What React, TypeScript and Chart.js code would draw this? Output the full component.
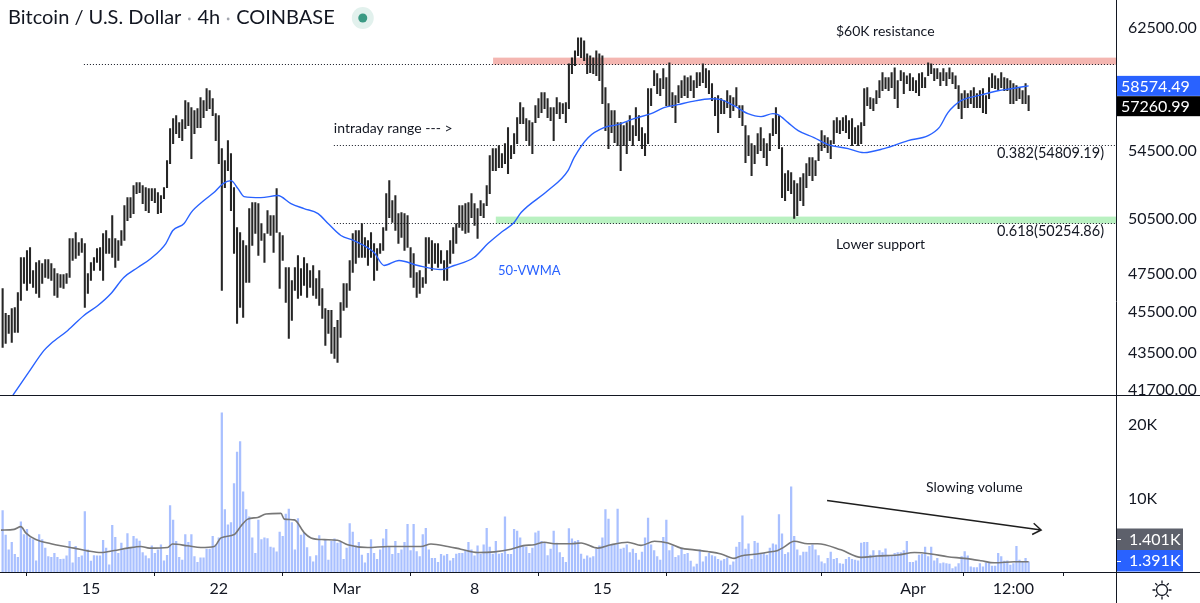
import React, { useEffect, useRef } from "react";
import { Chart, registerables } from "chart.js";

Chart.register(...registerables);

const FONT = "Lato, 'Open Sans', 'DejaVu Sans', sans-serif";
const INK = "#131722";

// 4h bars, x index 0 = 15 Feb 00:00 (one unit = one 4h bar)
const FIRST_BAR_INDEX = -29;

// [low, high] of each 4h bar
const BAR_LOW_HIGH: [number, number][] = [
  [43742,46717],[43938,45433],[44431,45332],[43987,45687],[44480,45738],[44480,46509],
  [46097,48361],[46979,48361],[46613,48740],[46979,48903],[46769,47664],[46457,48092],
  [46251,48200],[46979,48038],[47294,48253],[47241,48253],[47136,48038],[46354,47771],
  [46251,47505],[46769,47452],[46717,47452],[46979,47505],[47294,49396],[48200,49396],
  [48307,49728],[48469,49176],[48631,49396],[45738,49121],[46457,47505],[47136,48092],
  [47664,48361],[48092,48849],[47664,48903],[47136,49673],[48577,49839],[48577,49396],
  [48361,50680],[47824,49396],[48200,49286],[49012,49839],[49286,51248],[50398,51707],
  [50567,51707],[50793,52404],[51938,52579],[51996,52579],[51363,52404],[50963,52287],
  [50849,52229],[51535,52229],[51420,52229],[50793,51996],[50849,51823],[51650,52287],
  [52287,53885],[53705,55843],[54917,56469],[55532,56658],[55285,56218],[55101,56406],
  [55843,57614],[56030,57486],[54006,57166],[55532,56975],[55905,57102],[55905,57807],
  [56532,57614],[56975,58390],[57102,58260],[56658,57743],[55101,56785],[53705,56658],
  [46613,54611],[52287,53885],[53288,55101],[50963,54308],[48577,52287],[44929,50006],
  [45738,49728],[45230,49286],[47031,49012],[47031,51077],[49012,51420],[49673,51420],
  [48469,51363],[49286,50230],[48092,49673],[49673,50963],[49562,50680],[48631,50680],
  [49728,52229],[46717,49728],[48200,49562],[45994,47824],[44184,47824],[45080,47136],
  [46613,47824],[46200,48469],[46354,47771],[46874,48361],[46251,48038],[46769,47664],
  [46354,47931],[46200,47241],[45840,47664],[45180,46717],[43840,45687],[44431,45586],
  [43451,45586],[43209,44729],[43017,45080],[44233,45994],[45586,46979],[45738,46979],
  [46613,48200],[47558,49673],[48038,49839],[48361,49839],[48361,50230],[48361,49451],
  [47931,49286],[48361,49728],[47136,49121],[47664,48849],[48577,49121],[48740,50006],
  [49839,51938],[50567,52697],[50286,51535],[49839,51823],[49121,50793],[49451,50849],
  [48740,50793],[48903,50680],[47294,48903],[46769,48577],[46251,47558],[46457,47664],
  [46769,47294],[46979,49451],[48038,49451],[47664,49286],[48038,49121],[47824,49121],
  [48038,48740],[47136,48200],[47136,48740],[48038,49286],[48577,50006],[49121,50230],
  [50006,51248],[49839,51248],[49673,51363],[49728,51420],[50567,51938],[50118,51363],
  [49396,51077],[50680,51535],[50567,51363],[51248,52404],[51938,54187],[53288,54611],
  [53288,54611],[53466,54794],[53466,54308],[53705,54917],[53110,55905],[54006,54794],
  [54308,55532],[54917,56532],[56155,57486],[56155,57166],[55101,56469],[54794,56344],
  [54308,56218],[56218,57294],[56532,57743],[56848,58130],[57102,58130],[56532,57743],
  [56344,57166],[55101,57166],[56785,57807],[56469,57486],[56785,57422],[56218,57486],
  [57102,60041],[59376,60444],[59908,60918],[60579,61807],[60444,61807],[60242,61601],
  [59376,60714],[59442,60579],[59376,60444],[59243,60918],[58914,60714],[57422,60579],
  [55718,58455],[54611,57422],[55594,56975],[54978,56975],[54794,56218],[53288,56218],
  [54794,56030],[54308,56218],[55101,56658],[54794,56030],[55409,57166],[55101,56658],
  [54611,55905],[54187,55532],[54917,58390],[57294,58390],[58586,59575],[58065,59376],
  [57936,59045],[58390,59708],[57294,59111],[57294,60108],[57166,58130],[56218,57936],
  [57486,58586],[57807,58914],[57936,59243],[57807,59111],[58260,59243],[57807,58914],
  [58455,59442],[58586,59442],[58782,60041],[58455,59708],[58065,59575],[57614,58717],
  [56658,57807],[55594,57936],[56785,57743],[56785,57614],[57166,58260],[56532,57936],
  [56975,57807],[57294,58455],[56532,57294],[56030,57294],[53765,56030],[54187,55409],
  [52991,54917],[53705,54794],[54308,55532],[54490,55905],[54066,55224],[53586,54917],
  [54490,55532],[55409,56469],[55532,57166],[54611,56658],[51707,54672],[51535,53110],
  [52112,53288],[51938,53169],[50511,52697],[50680,52521],[51535,52873],[51248,53110],
  [52287,53705],[52991,54066],[52697,54066],[52991,53885],[53885,54917],[54490,55718],
  [54672,55409],[54368,55285],[54006,55101],[54917,56344],[55594,56532],[55532,56344],
  [55718,56532],[55594,56658],[55224,56344],[54794,56469],[54917,55905],[54794,56030],
  [54917,56218],[56030,58390],[57294,58455],[57102,57807],[56975,57743],[57422,58260],
  [57807,58914],[58260,59442],[58390,59111],[58260,59111],[58455,59442],[57743,59774],
  [57166,58914],[58914,59575],[58065,59442],[58717,59243],[58260,59376],[58260,59111],
  [58130,58914],[57936,59376],[58455,59442],[58455,59111],[59243,60108],[59376,60041],
  [58914,59708],[59045,59708],[58586,59442],[58914,59708],[58586,59442],[59045,59774],
  [58717,59442],[58390,59243],[57102,58586],[56469,58065],[57166,58260],[57166,58065],
  [57422,58260],[57166,58455],[57166,58065],[57166,58260],[56848,58390],[56785,57936],
  [57743,59111],[58455,59376],[58390,59243],[58260,59045],[58455,59442],[58260,59111],
  [58260,59045],[57422,58914],[57422,58717],[57614,58586],[57743,58455],[57422,58260],
  [57422,58717],[56975,57936],
];

// volume of each bar, thousands of BTC
const VOLUME_K: number[] = [
  8.33, 5.0, 3.01, 4.03, 2.41, 1.99, 6.81, 5.09, 5.79, 4.63,
  4.40, 1.53, 5.09, 4.40, 3.24, 2.08, 1.99, 2.55, 1.99, 1.71,
  1.76, 2.18, 4.17, 1.25, 3.47, 1.99, 2.18, 8.19, 3.01, 1.48,
  2.22, 2.18, 2.18, 4.31, 3.24, 0.97, 6.34, 4.72, 2.55, 3.94,
  3.01, 5.23, 3.24, 4.86, 4.49, 4.21, 2.64, 2.18, 1.81, 3.56,
  2.55, 3.01, 3.70, 1.53, 2.27, 9.03, 7.04, 4.17, 1.99, 1.62,
  5.09, 4.03, 5.09, 2.08, 1.30, 1.94, 1.94, 3.10, 3.10, 4.86,
  3.70, 4.63, 21.6, 8.47, 6.39, 6.71, 12.0, 16.3, 17.7, 10.9,
  8.47, 7.5, 4.63, 2.55, 7.04, 4.40, 4.63,
  4.54, 3.38, 3.29, 2.73, 5.42, 4.86, 7.87, 8.56, 6.71, 3.01,
  7.27, 5.0, 5.32, 3.33, 2.08, 1.39, 2.22, 4.95, 3.56, 4.40,
  1.62, 4.17, 4.49, 3.94, 4.03, 1.71, 3.24, 6.57, 5.42, 3.56,
  4.03, 2.31, 1.25, 2.55, 4.40, 2.55, 1.71, 3.01, 4.49, 5.79,
  3.47, 2.41, 4.17, 2.55, 3.01, 4.03, 6.48, 2.92, 6.48, 2.78,
  2.08, 5.09, 5.93, 3.01, 1.85, 1.85, 1.30, 2.41, 2.18, 2.41,
  1.53, 1.85, 2.45, 2.55, 2.55, 2.87, 4.03, 3.01, 2.18, 3.56,
  2.45, 3.70, 5.93, 3.38, 2.45, 4.17, 2.45, 2.55, 7.5, 2.41,
  2.41, 5.79, 5.56, 4.63, 3.47,
  3.38, 2.55, 3.24, 5.32, 5.56, 4.17, 3.94, 2.22, 3.10, 5.56,
  3.94, 2.64, 1.99, 1.30, 5.88, 4.49, 4.17, 4.31, 2.45, 1.76,
  2.18, 1.94, 2.08, 3.10, 3.56, 4.63, 8.47, 7.18, 3.70, 3.70,
  8.56, 3.10, 3.24, 3.70, 2.64, 3.10, 2.55, 1.62, 2.69, 4.63,
  7.31, 3.70, 2.92, 2.08, 1.62, 4.72, 7.04, 2.92, 3.56, 1.99,
  2.22, 3.24, 2.41, 2.55, 1.48, 0.69, 1.06, 3.01, 1.39, 2.08,
  2.55, 2.22, 2.08, 1.71, 1.53, 1.71, 1.94, 0.93, 1.39, 3.38,
  4.03, 7.64, 3.10, 3.84, 1.71, 4.17, 3.94, 2.55, 2.55, 2.31,
  3.24, 3.84, 3.70, 7.78, 5.19,
  2.41, 2.64, 11.57, 4.86, 3.01, 2.22, 2.69, 2.69, 3.47, 3.70,
  3.01, 2.22, 1.39, 1.16, 1.85, 2.69, 1.71, 1.85, 1.16, 1.06,
  1.71, 1.99, 1.71, 1.62, 1.53, 3.94, 4.03, 4.03, 2.31, 2.92,
  2.22, 2.92, 2.64, 3.15, 2.18, 2.18, 2.55, 2.64, 2.64, 2.92,
  4.17, 1.30, 1.30, 1.53, 2.31, 2.41, 3.38, 2.08, 3.38, 1.53,
  1.85, 1.16, 1.25, 1.16, 1.06, 0.46, 0.69, 1.16, 2.08, 2.78,
  2.18, 0.69, 0.60, 0.60, 1.16, 0.69, 1.25, 1.25, 0.79, 0.79,
  2.55, 2.08, 1.48, 1.53, 0.93, 1.16, 3.47, 1.62, 1.39, 1.85,
  1.39,
];

// 50-period volume-weighted moving average: [bar index, price]
const VWMA_50: [number, number][] = [
  [-25.6, 41470], [-20.7, 42490], [-15.4, 43596], [-13.1, 43938], [-7.6, 44580], [-2.3, 45332],
  [2.3, 45840], [6.6, 46457], [10.8, 47294], [15.4, 47824], [19.7, 48307], [24.6, 49121],
  [26.9, 49839], [30.6, 50230], [32.9, 50849], [37.1, 51535], [40.4, 51996], [43.4, 52521],
  [46.0, 52697], [48.3, 52229], [50.3, 51765], [55.8, 51707], [61.4, 51823], [65.7, 51363],
  [70.0, 51077], [74.6, 50793], [77.9, 50230], [82.1, 49562], [86.4, 49286], [93.0, 48631],
  [96.3, 47931], [101.2, 48200], [107.4, 47931], [115.0, 47718], [119.3, 47931], [125.8, 48361],
  [130.4, 49121], [134.7, 49728], [139.0, 50286], [141.3, 50849], [150.1, 52112], [156.7, 53288],
  [158.7, 54066], [163.3, 55285], [168.5, 55905], [173.1, 56093], [178.4, 56469], [184.0, 56785],
  [188.2, 57166], [192.8, 57358], [197.1, 57550], [203.7, 57743], [207.0, 57679], [211.2, 57294],
  [215.8, 56785], [220.1, 56595], [224.0, 56785], [225.7, 56722], [229.0, 56218], [232.3, 55718],
  [237.5, 55285], [242.1, 54856], [248.7, 54611], [253.9, 54368], [260.5, 54611], [268.4, 55101],
  [275.0, 55409], [278.6, 55905], [281.5, 56848], [285.8, 57614], [291.4, 57936], [297.9, 58260],
  [302.2, 58390], [308, 58574.49],
];

// volume moving average: [bar index, thousands]
const VOLUME_MA: [number, number][] = [
  [-29.6, 5.69], [-25.2, 5.79], [-23, 6.16], [-21.4, 5.32], [-18.1, 4.40], [-13.1, 3.84],
  [-9.9, 3.56], [-5.5, 3.24], [-1.1, 2.87], [3.3, 2.64], [7.7, 2.92], [12, 3.24],
  [16.4, 3.47], [19.2, 3.24], [25.2, 3.33], [26.8, 3.80], [31.8, 3.56], [36.1, 3.33],
  [40.5, 3.47], [42.7, 4.63], [47.1, 5.09], [49.3, 6.25], [51.5, 7.18], [54.8, 7.41],
  [57.5, 7.87], [62.4, 7.96], [63.5, 7.18], [66.8, 7.08], [70.1, 5.32], [72.3, 4.63],
  [76.6, 4.40], [81, 4.31], [84.3, 3.70], [90.9, 3.33], [97.5, 3.47], [104, 3.47],
  [108.4, 3.47], [111.7, 3.80], [117.2, 3.47], [121.5, 3.10], [127, 2.64], [132.5, 2.73],
  [138, 3.10], [142, 3.58], [145.6, 3.70], [148.9, 4.03], [152.2, 3.84], [157.7, 3.84],
  [161, 3.94], [166.5, 3.24], [170.8, 3.70], [176.3, 4.03], [180.7, 3.61], [185.1, 4.17],
  [189.5, 3.94], [193.8, 3.24], [198.2, 3.01], [202.6, 2.78], [207, 2.45], [211.3, 1.85],
  [213.5, 2.18], [217.9, 2.41], [222.3, 2.69], [225.6, 2.92], [227.5, 3.35], [231, 4.17],
  [235.4, 3.84], [238.7, 3.84], [246.4, 3.01], [253, 1.99], [258.4, 2.18], [265, 2.31],
  [270.5, 2.64], [276, 2.45], [281.4, 2.08], [286.9, 1.85], [292.4, 1.53], [296.7, 1.25],
  [303.3, 1.39], [308, 1.401],
];

const X_TICK_VALUES = [0, 42, 84, 126, 168, 210, 270, 303];
const X_TICK_LABELS = ["15", "22", "Mar", "8", "15", "22", "Apr", "12:00"];
const PRICE_TICKS = [41700, 43500, 45500, 47500, 50500, 54500, 62500];
const VOLUME_TICKS = [10000, 20000];

const LAST_CLOSE = 57260.99;
const LAST_VWMA = 58574.49;
const LAST_VOLUME_MA = "1.401K";
const LAST_VOLUME = "1.391K";
const LAST_VOLUME_VALUE = 1391;

const RESISTANCE_LEVEL = 60000;
const RESISTANCE_BAND: [number, number] = [59980, 60450];
const SUPPORT_BAND: [number, number] = [50230, 50620];
const FIB_382 = 54809.19;
const FIB_618 = 50254.86;

const LEVEL_LINES = [
  { from: -2.3, value: RESISTANCE_LEVEL },
  { from: 79.8, value: FIB_382 },
  { from: 79.8, value: FIB_618 },
];
const BANDS = [
  { from: 132.1, range: RESISTANCE_BAND, color: "rgba(229,80,70,0.42)" },
  { from: 133, range: SUPPORT_BAND, color: "rgba(80,220,100,0.40)" },
];
const PRICE_NOTES = [
  { text: "$60K resistance", x: 244.7, y: 62220, size: 14, color: INK },
  { text: "intraday range --- >", x: 79.8, y: 55843, size: 14, color: INK },
  { text: "0.382(54809.19)", x: 297.6, y: 54308, size: 14.5, color: INK },
  { text: "0.618(50254.86)", x: 297.6, y: 49784, size: 14.5, color: INK },
  { text: "Lower support", x: 244.7, y: 49067, size: 14, color: INK },
  { text: "50-VWMA", x: 133.7, y: 47664, size: 13, color: "#2962ff" },
];
const VOLUME_NOTE = { text: "Slowing volume", x: 274.3, y: 11500 };
const VOLUME_ARROW = { from: [241.8, 9700], to: [312.1, 5700] };

const overlay = {
  id: "overlay",
  beforeDatasetsDraw(chart: any) {
    const { ctx, chartArea: ca, scales } = chart;
    const x = scales.x, y = scales.y;
    ctx.save();
    for (const b of BANDS) {
      const x0 = x.getPixelForValue(b.from);
      const top = y.getPixelForValue(b.range[1]);
      const bot = y.getPixelForValue(b.range[0]);
      ctx.fillStyle = b.color;
      ctx.fillRect(x0, top, ca.right - x0, bot - top);
    }
    ctx.setLineDash([1, 2]);
    ctx.strokeStyle = INK;
    ctx.lineWidth = 1;
    for (const l of LEVEL_LINES) {
      const py = Math.round(y.getPixelForValue(l.value)) + 0.5;
      ctx.beginPath();
      ctx.moveTo(x.getPixelForValue(l.from), py);
      ctx.lineTo(ca.right, py);
      ctx.stroke();
    }
    ctx.restore();
  },
  afterDraw(chart: any) {
    const { ctx, chartArea: ca, scales, width, height } = chart;
    const x = scales.x, y = scales.y, yv = scales.yv;
    ctx.save();
    ctx.textBaseline = "middle";
    ctx.textAlign = "left";
    for (const n of PRICE_NOTES) {
      ctx.font = `${n.size}px ${FONT}`;
      ctx.fillStyle = n.color;
      ctx.fillText(n.text, x.getPixelForValue(n.x), y.getPixelForValue(n.y));
    }
    ctx.font = `14px ${FONT}`;
    ctx.fillStyle = INK;
    ctx.fillText(VOLUME_NOTE.text, x.getPixelForValue(VOLUME_NOTE.x), yv.getPixelForValue(VOLUME_NOTE.y));

    // arrow
    const ax0 = x.getPixelForValue(VOLUME_ARROW.from[0]);
    const ay0 = yv.getPixelForValue(VOLUME_ARROW.from[1]);
    const ax1 = x.getPixelForValue(VOLUME_ARROW.to[0]);
    const ay1 = yv.getPixelForValue(VOLUME_ARROW.to[1]);
    ctx.strokeStyle = "#1e1e1e";
    ctx.lineWidth = 1.5;
    ctx.beginPath();
    ctx.moveTo(ax0, ay0);
    ctx.lineTo(ax1, ay1);
    const ang = Math.atan2(ay1 - ay0, ax1 - ax0);
    const hl = 10;
    ctx.moveTo(ax1 - hl * Math.cos(ang - 0.6), ay1 - hl * Math.sin(ang - 0.6));
    ctx.lineTo(ax1, ay1);
    ctx.lineTo(ax1 - hl * Math.cos(ang + 0.6), ay1 - hl * Math.sin(ang + 0.6));
    ctx.stroke();

    // pane separators and axis line
    ctx.strokeStyle = INK;
    ctx.lineWidth = 1;
    const sepY = Math.round(y.bottom) + 0.5;
    ctx.beginPath();
    ctx.moveTo(0, sepY); ctx.lineTo(width, sepY);
    const botY = Math.round(ca.bottom) + 0.5;
    ctx.moveTo(0, botY); ctx.lineTo(width, botY);
    const axX = Math.round(ca.right) + 0.5;
    ctx.moveTo(axX, 0); ctx.lineTo(axX, height);
    ctx.stroke();

    // last value boxes
    const boxH = 20;
    const drawBox = (cy: number, bg: string, label: string) => {
      ctx.fillStyle = bg;
      ctx.fillRect(ca.right + 1, cy - boxH / 2, width - ca.right - 1, boxH);
      ctx.fillStyle = "#ffffff";
      ctx.font = `16px ${FONT}`;
      ctx.fillText(label, ca.right + 5, cy + 0.5);
    };
    drawBox(y.getPixelForValue(LAST_VWMA), "#2962ff", LAST_VWMA.toFixed(2));
    drawBox(y.getPixelForValue(LAST_CLOSE), "#000000", LAST_CLOSE.toFixed(2));
    const volH = 21.5;
    const volCy = Math.min(yv.getPixelForValue(LAST_VOLUME_VALUE), yv.bottom - volH / 2 - 0.5);
    const drawVolBox = (cy: number, bg: string, label: string) => {
      ctx.fillStyle = bg;
      ctx.fillRect(ca.right + 1, cy - volH / 2, width - ca.right - 18, volH);
      ctx.strokeStyle = "#ffffff";
      ctx.beginPath();
      ctx.moveTo(ca.right + 1, Math.round(cy) + 0.5);
      ctx.lineTo(ca.right + 5, Math.round(cy) + 0.5);
      ctx.stroke();
      ctx.fillStyle = "#ffffff";
      ctx.font = `16px ${FONT}`;
      ctx.fillText(label, ca.right + 13, cy + 0.5);
    };
    drawVolBox(volCy - volH, "#5d606b", LAST_VOLUME_MA);
    drawVolBox(volCy, "#2962ff", LAST_VOLUME);

    // title
    ctx.font = `20px ${FONT}`;
    ctx.fillStyle = INK;
    let tx = 8;
    const ty = 18;
    const parts = ["Bitcoin / U.S. Dollar", "4h", "COINBASE"];
    parts.forEach((p, i) => {
      if (i > 0) {
        ctx.fillStyle = "#a3a6af";
        ctx.beginPath();
        ctx.arc(tx + 8, ty + 1, 1.4, 0, Math.PI * 2);
        ctx.fill();
        tx += 16;
      }
      ctx.fillStyle = INK;
      ctx.fillText(p, tx, ty);
      tx += ctx.measureText(p).width;
    });
    ctx.fillStyle = "#e2f1ed";
    ctx.beginPath();
    ctx.arc(tx + 28, ty, 11, 0, Math.PI * 2);
    ctx.fill();
    ctx.fillStyle = "#3b9a84";
    ctx.beginPath();
    ctx.arc(tx + 28, ty, 4.5, 0, Math.PI * 2);
    ctx.fill();

    // settings icon
    const gx = ca.right + 46, gy = ca.bottom + 18;
    ctx.strokeStyle = INK;
    ctx.lineWidth = 1.3;
    ctx.beginPath();
    ctx.arc(gx, gy, 5.5, 0, Math.PI * 2);
    ctx.stroke();
    ctx.beginPath();
    for (let k = 0; k < 8; k++) {
      const a = (k * Math.PI) / 4;
      ctx.moveTo(gx + 6.5 * Math.cos(a), gy + 6.5 * Math.sin(a));
      ctx.lineTo(gx + 9.5 * Math.cos(a), gy + 9.5 * Math.sin(a));
    }
    ctx.stroke();
    ctx.restore();
  },
};

const zeroPad = (s: any) => {
  s.paddingTop = 0;
  s.paddingBottom = 0;
  s.paddingLeft = 0;
  s.paddingRight = 0;
};

export default function App() {
  const ref = useRef<HTMLCanvasElement>(null);
  useEffect(() => {
    document.body.style.margin = "0";
    const canvas = ref.current!;
    const tickFont = { family: FONT, size: 16 };
    const chart = new Chart(canvas, {
      type: "bar",
      data: {
        datasets: [
          {
            type: "line",
            data: VWMA_50.map(([x, y]) => ({ x, y })),
            yAxisID: "y",
            borderColor: "#2962ff",
            borderWidth: 1.4,
            pointRadius: 0,
            cubicInterpolationMode: "monotone",
            order: 0,
          } as any,
          {
            type: "bar",
            data: BAR_LOW_HIGH.map(([lo, hi], i) => ({ x: FIRST_BAR_INDEX + i, y: [lo, hi] })),
            yAxisID: "y",
            backgroundColor: "#262626",
            barThickness: 1.4,
            grouped: false,
            order: 1,
          } as any,
          {
            type: "line",
            data: VOLUME_MA.map(([x, v]) => ({ x, y: v * 1000 })),
            yAxisID: "yv",
            borderColor: "#777777",
            borderWidth: 1.6,
            pointRadius: 0,
            cubicInterpolationMode: "monotone",
            order: 0,
          } as any,
          {
            type: "bar",
            data: VOLUME_K.map((v, i) => ({ x: FIRST_BAR_INDEX + i, y: v * 1000 })),
            yAxisID: "yv",
            backgroundColor: "rgba(41,98,255,0.4)",
            barThickness: 1.6,
            grouped: false,
            order: 1,
          } as any,
        ],
      },
      options: {
        responsive: false,
        animation: false,
        devicePixelRatio: 1,
        events: [],
        layout: { padding: 0 },
        plugins: { legend: { display: false }, tooltip: { enabled: false }, title: { display: false } },
        scales: {
          x: {
            type: "linear",
            min: -29.6,
            max: 336.7,
            offset: false,
            afterBuildTicks: (s: any) => {
              s.ticks = X_TICK_VALUES.map((v) => ({ value: v }));
            },
            afterFit: (s: any) => {
              s.height = 31;
              zeroPad(s);
            },
            grid: { drawOnChartArea: false, drawTicks: true, tickLength: 4, color: INK },
            border: { display: false },
            ticks: {
              autoSkip: false,
              maxRotation: 0,
              padding: 3,
              color: INK,
              font: { family: FONT, size: 16 },
              callback: (_v: any, i: number) => X_TICK_LABELS[i],
            },
          },
          y: {
            type: "logarithmic",
            position: "right",
            stack: "panes",
            stackWeight: 395,
            min: 41468,
            max: 64410,
            afterBuildTicks: (s: any) => {
              s.ticks = PRICE_TICKS.map((v) => ({ value: v }));
            },
            afterFit: (s: any) => {
              s.width = 84;
              zeroPad(s);
            },
            grid: { display: false },
            border: { display: false },
            ticks: {
              autoSkip: false,
              padding: 4,
              color: INK,
              font: tickFont,
              callback: (v: any) => Number(v).toFixed(2),
            },
          },
          yv: {
            type: "linear",
            position: "right",
            stack: "panes",
            stackWeight: 177,
            min: 0,
            max: 24000,
            afterBuildTicks: (s: any) => {
              s.ticks = VOLUME_TICKS.map((v) => ({ value: v }));
            },
            afterFit: (s: any) => {
              s.width = 84;
              zeroPad(s);
            },
            grid: { display: false },
            border: { display: false },
            ticks: {
              autoSkip: false,
              padding: 4,
              color: INK,
              font: tickFont,
              callback: (v: any) => Number(v) / 1000 + "K",
            },
          },
        },
      } as any,
      plugins: [overlay],
    });
    let alive = true;
    if ((document as any).fonts && (document as any).fonts.load) {
      Promise.all([
        (document as any).fonts.load(`16px Lato`),
        (document as any).fonts.load(`14px Lato`),
      ]).then(() => {
        if (alive) chart.update();
      }).catch(() => {});
    }
    return () => {
      alive = false;
      chart.destroy();
    };
  }, []);
  return (
    <div style={{ width: 1200, height: 603, background: "#ffffff" }}>
      <canvas ref={ref} width={1200} height={603} style={{ display: "block" }} />
    </div>
  );
}
